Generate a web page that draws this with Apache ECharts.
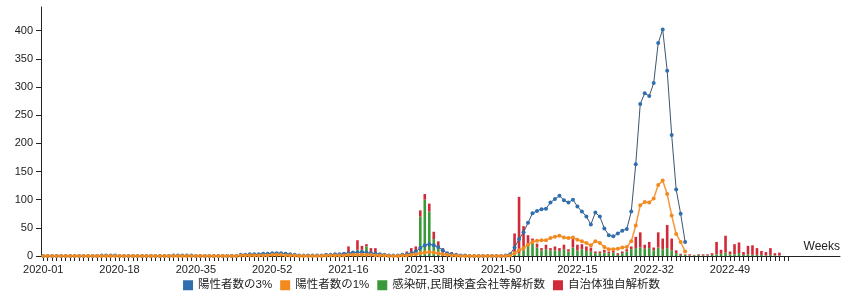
<!DOCTYPE html>
<html>
<head>
<meta charset="utf-8">
<script src="https://cdn.jsdelivr.net/npm/echarts@6/dist/echarts.min.js"></script>
<style>
html, body { margin: 0; padding: 0; background: #fff; }
#chart { width: 843px; height: 298px; }
</style>
</head>
<body>
<div id="chart"></div>
<script>
// 週ラベル (年ごとの週数)
const years = [2020, 2021, 2022, 2023];
const weekCounts = [53, 52, 52, 10];
const padWeeks = 11; // 軸線を右端まで伸ばすための空カテゴリ

// 感染研,民間検査会社等解析数
const green2020 = [0,0,0,0,0,0,0,0,0,0, 0,0,0,0,0,0,0,0,0,0, 0,0,0,0,0,0,0,0,0,0,
  0,0,0,0,0,0,0,0,0,1, 1,2,1,1,1,2,1,1,1,2, 2,2,2];
const green2021 = [2,2,2,1,1,1,1,1,1,1, 2,2,2,2,2,2,4,11,11,17,
  4,1,1,1,0,0,1,2,5,4, 10,70,100,79,30,16,3,3,1,1, 1,0,0,0,0,0,0,0,0,0, 0,0];
const green2022 = [3,5,10,18,22,15,10,12,10,10, 9,12,8,15,10,12,9,8,5,5,
  6,5,6,2,5,8,12,14,15,13, 14,10,15,12,14,10,5,2,2,1, 1,2,1,1,2,3,4,6,3,3, 5,2];
const green2023 = [3,2,2,2,1,2,1,1,0,0];

// 自治体独自解析数
const red2020 = [0,0,0,0,0,0,0,0,0,0, 0,0,0,0,0,0,0,0,0,0, 0,0,0,0,0,0,0,0,0,0,
  0,0,0,0,0,0,0,0,0,0, 1,1,2,0,1,1,1,1,1,2, 1,2,2];
const red2021 = [2,1,1,1,0,0,0,0,1,1, 1,1,2,2,3,15,3,17,7,4,
  10,13,2,1,1,1,1,2,3,10, 7,11,10,14,13,10,11,2,6,1, 2,1,0,0,0,0,0,0,0,1, 1,2];
const red2022 = [37,100,43,19,9,7,4,8,4,7, 5,8,4,16,10,9,8,7,3,3,
  5,3,3,3,3,4,5,20,27,7, 11,5,27,19,41,21,5,2,1,2, 1,1,2,2,3,22,7,30,5,18, 19,5];
const red2023 = [15,17,12,7,6,12,4,5,0,0];

// 陽性者数の3%
const pos3_2020 = [0,0,0,0,0,0,0,0,0,0, 0,0,0,1,1,1,1,0,0,0, 0,0,0,0,0,0,0,0,0,1,
  1,1,1,1,0,0,0,0,0,0, 0,0,0,0,2,2,3,3,3,4, 4,5,5];
const pos3_2021 = [5,4,3,2,1,1,1,1,1,1, 2,2,3,3,4,5,6,6,7,6,
  5,4,3,2,1,1,1,2,3,5, 8,14,19,21,19,16,10,5,3,2, 1,1,0,0,0,0,0,0,0,0, 1,3];
const pos3_2022 = [15,30,42,59,76,80,83,84,95,101, 107,99,95,100,88,79,70,56,77,70,
  49,37,35,40,45,48,79,163,270,289, 284,307,378,402,329,215,118,75,25];

// 陽性者数の1%
const pos1_2020 = [0,0,0,0,0,0,0,0,0,0, 0,0,0,0,0,0,0,0,0,0, 0,0,0,0,0,0,0,0,0,0,
  0,0,0,0,0,0,0,0,0,0, 0,0,0,0,1,1,1,1,1,1, 1,2,2];
const pos1_2021 = [2,1,1,1,0,0,0,0,0,0, 1,1,1,1,1,2,2,2,2,2,
  2,1,1,1,0,0,0,1,1,2, 3,5,6,7,6,5,3,2,1,1, 0,0,0,0,0,0,0,0,0,0, 0,1];
const pos1_2022 = [5,10,14,20,25,27,28,28,32,34, 36,33,32,33,29,26,23,19,26,23,
  16,12,12,13,15,16,26,54,90,96, 95,102,126,134,110,72,39,25,8];

const weeks = [];
years.forEach(function (y, k) {
  for (let w = 1; w <= weekCounts[k]; w++) {
    weeks.push(y + '-' + (w < 10 ? '0' + w : w));
  }
});
const nWeeks = weeks.length;
for (let p = 0; p < padWeeks; p++) weeks.push('');

const greenData = green2020.concat(green2021, green2022, green2023);
const redData = red2020.concat(red2021, red2022, red2023);
const pos3Data = pos3_2020.concat(pos3_2021, pos3_2022);
const pos1Data = pos1_2020.concat(pos1_2021, pos1_2022);

const font = '"Liberation Sans", "Noto Sans CJK JP", sans-serif';
const chart = echarts.init(document.getElementById('chart'));

chart.setOption({
  animation: false,
  textStyle: { fontFamily: font },
  grid: { left: 41, right: 0, top: 7, bottom: 42 },
  legend: {
    bottom: 2,
    left: 'center',
    icon: 'rect',
    itemWidth: 10,
    itemHeight: 10,
    itemGap: 8,
    textStyle: { fontFamily: font, fontSize: 11.5, color: '#222' },
    data: ['陽性者数の3%', '陽性者数の1%', '感染研,民間検査会社等解析数', '自治体独自解析数']
  },
  xAxis: {
    type: 'category',
    data: weeks,
    name: 'Weeks',
    nameLocation: 'end',
    nameGap: 0,
    nameTextStyle: { align: 'right', verticalAlign: 'bottom', padding: [0, 0, 3, 0], fontSize: 12, color: '#222' },
    axisLine: { lineStyle: { color: '#222', width: 1 } },
    axisTick: {
      show: true,
      alignWithLabel: true,
      length: 5,
      interval: function (idx) { return idx < nWeeks; },
      lineStyle: { color: '#222' }
    },
    axisLabel: {
      interval: function (idx) { return idx % 17 === 0 && idx < nWeeks; },
      fontSize: 11,
      color: '#222',
      margin: 8
    }
  },
  yAxis: {
    type: 'value',
    min: 0,
    max: 442,
    interval: 50,
    splitLine: { show: false },
    axisLine: { show: true, lineStyle: { color: '#222', width: 1 } },
    axisTick: { show: true, length: 5, lineStyle: { color: '#222' } },
    axisLabel: { fontSize: 11, color: '#222', showMaxLabel: false }
  },
  series: [
    {
      name: '陽性者数の3%',
      type: 'line',
      data: pos3Data,
      z: 4,
      symbol: 'circle',
      symbolSize: 4,
      showAllSymbol: true,
      color: '#2f6fb0',
      lineStyle: { color: '#3d5570', width: 1 },
      itemStyle: { color: '#2f6fb0' }
    },
    {
      name: '陽性者数の1%',
      type: 'line',
      data: pos1Data,
      z: 5,
      symbol: 'circle',
      symbolSize: 4,
      showAllSymbol: true,
      color: '#f28a1e',
      lineStyle: { color: '#f7963a', width: 1.5 },
      itemStyle: { color: '#f28a1e' }
    },
    {
      name: '感染研,民間検査会社等解析数',
      type: 'bar',
      stack: 'lab',
      data: greenData,
      barWidth: '58%',
      color: '#3a9a3a',
      itemStyle: { color: '#3a9a3a' }
    },
    {
      name: '自治体独自解析数',
      type: 'bar',
      stack: 'lab',
      data: redData,
      barWidth: '58%',
      color: '#d02a38',
      itemStyle: { color: '#d02a38' }
    }
  ]
});
</script>
</body>
</html>
